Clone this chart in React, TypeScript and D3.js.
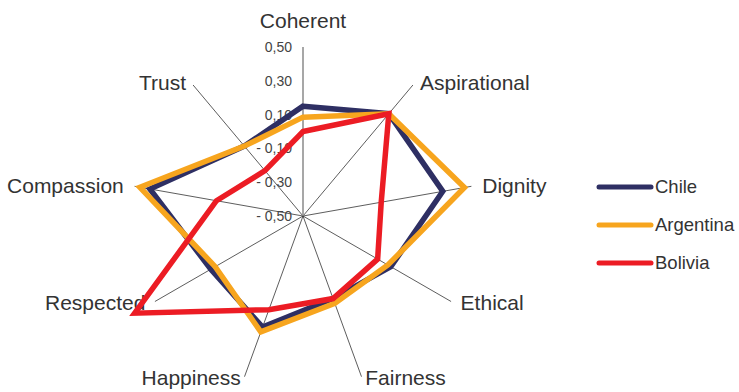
import React, { useEffect, useRef } from 'react';
import * as d3 from 'd3';

// axes go clockwise starting from the top
const axes = ['Coherent', 'Aspirational', 'Dignity', 'Ethical', 'Fairness', 'Happiness', 'Respected', 'Compassion', 'Trust'];
const chile = [0.15, 0.29, 0.34, 0.10, 0.02, 0.20, 0.13, 0.42, 0.04];
const argentina = [0.085, 0.29, 0.47, 0.08, 0.05, 0.23, 0.10, 0.48, 0.04];
const bolivia = [0.0, 0.29, -0.03, 0.01, 0.02, 0.09, 0.65, 0.02, -0.15];
const seriesNames = ['Chile', 'Argentina', 'Bolivia'];
const seriesColors = ['#2e2f63', '#f7a51e', '#ec1c24'];
const tickValues = [0.5, 0.3, 0.1, -0.1, -0.3, -0.5];

const W = 739;
const H = 392;

function fmtTick(v: number) {
  let s = d3.format('.2f')(Math.abs(v)).replace('.', ',');
  return v < 0 ? '- ' + s : s;
}

export default function App() {
  const ref = useRef<SVGSVGElement>(null);

  useEffect(() => {
    const svg = d3.select(ref.current);
    svg.selectAll('*').remove();

    const cx = 303, cy = 216, R = 169;
    const rScale = d3.scaleLinear().domain([-0.5, 0.5]).range([0, R]);
    const angle = d3.scaleLinear().domain([0, axes.length]).range([0, 2 * Math.PI]);

    const g = svg.append('g').attr('transform', 'translate(' + cx + ',' + cy + ')');

    // spokes
    axes.forEach((a, i) => {
      if (i === 0) return;
      const t = angle(i);
      g.append('line')
        .attr('x1', 0).attr('y1', 0)
        .attr('x2', Math.sin(t) * (R + 2))
        .attr('y2', -Math.cos(t) * (R + 2))
        .attr('stroke', '#333')
        .attr('stroke-width', 0.8);
    });

    // value axis
    g.append('line')
      .attr('x1', 0).attr('y1', 0)
      .attr('x2', 0).attr('y2', -rScale(0.5))
      .attr('stroke', '#8a8a8a')
      .attr('stroke-width', 1.5);

    g.selectAll('.tick')
      .data(tickValues)
      .enter().append('text')
      .attr('class', 'tick')
      .attr('x', -11)
      .attr('y', d => -rScale(d))
      .attr('dy', '0.35em')
      .attr('text-anchor', 'end')
      .attr('font-family', 'Liberation Sans, Arial, sans-serif')
      .attr('font-size', 14)
      .attr('fill', '#444')
      .text(d => fmtTick(d));

    // axis labels
    axes.forEach((a, i) => {
      const t = angle(i);
      const s = Math.sin(t), c = Math.cos(t);
      const lr = 182;
      let x = s * lr;
      let y = -c * lr;
      if (Math.abs(c) > 0.9) y -= c > 0 ? 13 : 9;
      else y += 8 * c;
      let anchor = 'middle';
      if (s > 0.1) anchor = 'start';
      if (s < -0.1) anchor = 'end';
      g.append('text')
        .attr('x', x)
        .attr('y', y)
        .attr('dy', '0.35em')
        .attr('text-anchor', anchor)
        .attr('font-family', 'Liberation Sans, Arial, sans-serif')
        .attr('font-size', 21)
        .attr('fill', '#333')
        .text(a);
    });

    const line = d3.lineRadial<number>()
      .angle((d, i) => angle(i))
      .radius(d => rScale(d))
      .curve(d3.curveLinearClosed);

    [chile, argentina, bolivia].forEach((vals, k) => {
      g.append('path')
        .attr('d', line(vals))
        .attr('fill', 'none')
        .attr('stroke', seriesColors[k])
        .attr('stroke-width', 5.5)
        .attr('stroke-linejoin', 'miter');
    });

    // legend
    const legend = svg.selectAll('.legend')
      .data(seriesNames)
      .enter().append('g')
      .attr('class', 'legend')
      .attr('transform', (d, i) => 'translate(597,' + (187 + i * 38) + ')');

    legend.append('line')
      .attr('x1', 2).attr('x2', 54)
      .attr('y1', 0).attr('y2', 0)
      .attr('stroke', (d, i) => seriesColors[i])
      .attr('stroke-width', 5)
      .attr('stroke-linecap', 'round');

    legend.append('text')
      .attr('x', 58)
      .attr('y', 0)
      .attr('dy', '0.35em')
      .attr('font-family', 'Liberation Sans, Arial, sans-serif')
      .attr('font-size', 18.5)
      .attr('fill', '#333')
      .text(d => d);
  }, []);

  return (
    <svg ref={ref} width={W} height={H} style={{ position: 'absolute', left: 0, top: 0, background: '#fff' }} />
  );
}
